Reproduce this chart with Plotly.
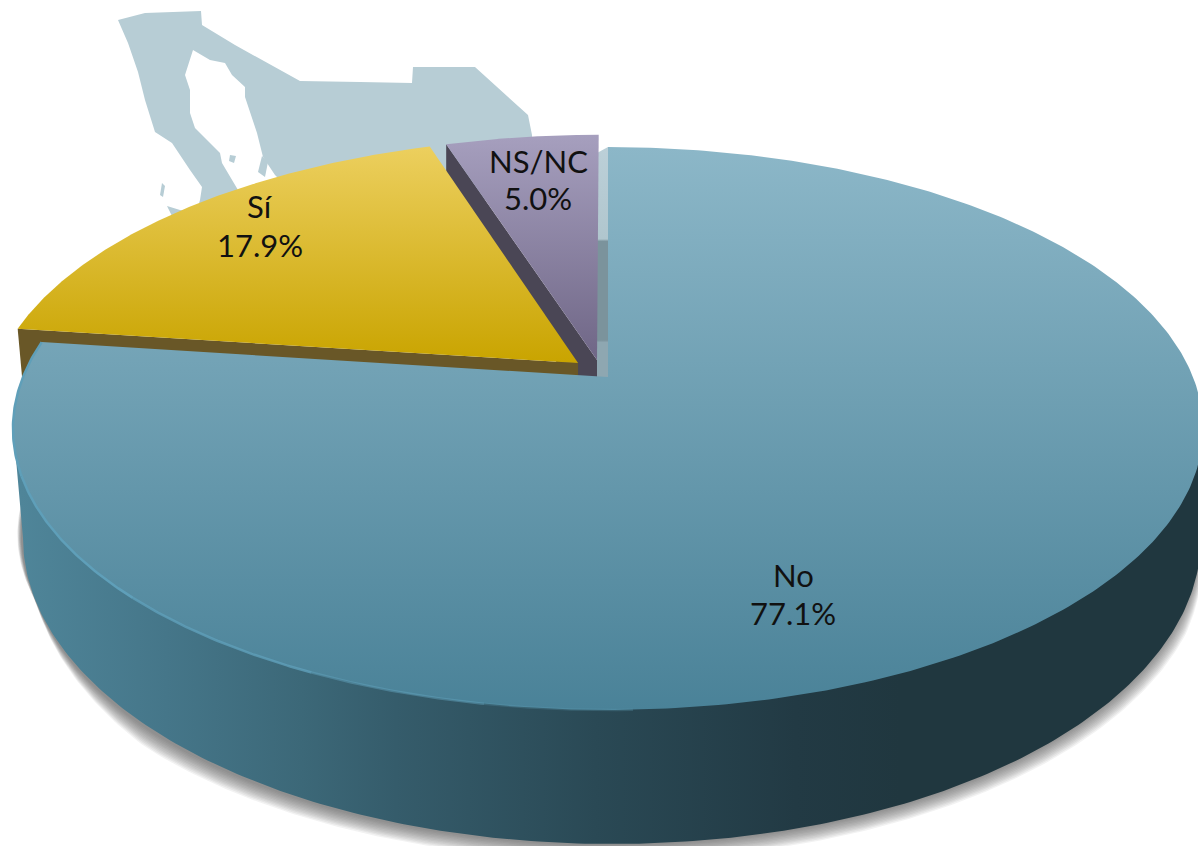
import math
import numpy as np
import plotly.graph_objects as go

# ---- data ----
categories = ["No", "Sí", "NS/NC"]
values = [77.1, 17.9, 5.0]

# ---- projection of the pie plane to the canvas ----
CX, CY, DX, KY, PERSP = 608.0, 377.0, 585.0, 272.0, 0.183
offsets = {"No": (0.0, 0.0), "Sí": (-0.0517, 0.052), "NS/NC": (-0.019, 0.0636)}


def project(u, v):
    den = 1 + PERSP * v
    return CX + DX * u / den, CY - KY * v / den


def wedge(name, start, sweep, n=160):
    ou, ov = offsets[name]
    th = np.radians(np.linspace(start, start + sweep, n))
    xs, ys = project(ou + np.sin(th), ov + np.cos(th))
    ax, ay = project(ou, ov)
    return list(xs), list(ys), ax, ay


def vgrad(c, start, stop):
    return dict(type="vertical", colorscale=c, start=start, stop=stop)


fig = go.Figure()


def poly(xs, ys, color=None, grad=None):
    kw = dict(fillgradient=grad) if grad else dict(fillcolor=color)
    fig.add_trace(go.Scatter(x=list(xs), y=list(ys), mode="lines", fill="toself",
                             line=dict(width=0), hoverinfo="skip", showlegend=False, **kw))


# background map silhouette
MAP = "#b7cdd5"
map_x = [118, 145, 201, 202, 235, 300, 360, 412, 413, 475, 528, 532, 535, 300, 275, 263, 257, 250, 245, 245,
         232, 225, 210, 193, 185, 190, 190, 195, 210, 220, 222, 232, 238, 240, 200, 196, 200, 202, 190, 172, 155,
         145, 138, 128]
map_y = [20, 13, 11, 25, 45, 81, 82, 83, 67, 67, 115, 135, 200, 200, 175, 157, 133, 113, 97, 87,
         75, 63, 60, 50, 75, 90, 113, 128, 143, 153, 163, 180, 190, 200, 215, 213, 200, 187, 170, 143, 132,
         100, 72, 43]
poly(map_x, map_y, MAP)
poly([262, 268, 265, 258], [156, 162, 177, 172], MAP)
poly([230, 236, 234, 229], [155, 156, 163, 161], MAP)
poly([162, 165, 163, 160], [183, 186, 197, 195], MAP)
poly([167, 180, 190, 172], [206, 210, 212, 216], MAP)

# strip between the exploded slices and the large slice
poly([597, 608, 608, 597], [153, 147, 377, 377],
     grad=vgrad([[0, "#bcd0d8"], [0.4, "#b0c6ce"], [0.41, "#7b939c"], [0.84, "#7b939c"],
                 [0.85, "#8ea7b1"], [1, "#8ea7b1"]], 147, 377))

# soft shadow under the base: grows out of the wall, no flat top
BCX, BCY, BRX, BRY = 612.0, 538.0, 589.0, 306.0
deg = np.linspace(-12, 192, 300)
t = np.radians(deg)
spread = np.clip(np.abs(np.sin(np.radians(deg + 12))) * 2.2, 0, 1)
for k in range(12, 0, -1):
    poly(BCX - 3 * spread + (BRX + k * 0.7 * spread) * np.cos(t),
         BCY + (k * 1.35) * spread + BRY * np.sin(t),
         "rgba(70,70,70,0.07)")

# slice angles come from the values, clockwise from 12 o'clock
starts, a = {}, 0.0
for c, v in zip(categories, values):
    starts[c] = (a, v / sum(values) * 360)
    a += starts[c][1]

# NS/NC
xs, ys, ax, ay = wedge("NS/NC", *starts["NS/NC"])
poly([xs[0], ax, ax, xs[0]], [ys[0], ay, ay + 60, ys[0] + 60], "#4a4655")
poly(xs + [ax], ys + [ay], grad=vgrad([[0, "#a69fbe"], [1, "#6f6686"]], 135, 360))

# Sí
xs, ys, ax, ay = wedge("Sí", *starts["Sí"])
poly([xs[0], ax, ax, xs[0] + 6], [ys[0], ay, ay + 60, ys[0] + 66], "#695727")
poly(xs + [ax], ys + [ay], grad=vgrad([[0, "#eccf5e"], [1, "#c9a400"]], 147, 363))

# No: side wall then top
t = np.radians(np.linspace(180, 0, 240))
side_x = list(BCX + BRX * np.cos(t)) + [1205, 13]
side_y = list(BCY + BRY * np.sin(t)) + [430, 425]
poly(side_x, side_y, grad=dict(type="horizontal", start=20, stop=1195, colorscale=[
    [0, "#4f8599"], [0.125, "#457689"], [0.24, "#3c6878"], [0.32, "#355c6b"], [0.49, "#2a4955"],
    [0.66, "#223a44"], [0.75, "#20373f"], [1, "#20373f"]]))
xs, ys, ax, ay = wedge("No", *starts["No"], n=400)
poly(xs + [ax], ys + [ay], grad=vgrad([[0, "#8cb7c8"], [1, "#4a8298"]], 147, 710))

# rim highlight along the front-left edge, fading towards the front
rim_stops = [277.56, 250, 225, 205, 190, 178]
rim_alpha = [1.0, 1.0, 0.8, 0.5, 0.25]
for (a0, a1), al in zip(zip(rim_stops[:-1], rim_stops[1:]), rim_alpha):
    th = np.radians(np.linspace(a0, a1, 60))
    rx, ry = project(np.sin(th), np.cos(th))
    fig.add_trace(go.Scatter(x=list(rx), y=list(ry), mode="lines",
                             line=dict(width=2.5, color=f"rgba(95,159,185,{al})"),
                             hoverinfo="skip", showlegend=False))

# labels
label_pos = {"No": (793, 575, 613), "Sí": (260, 206, 245), "NS/NC": (538, 161, 198)}
for c, v in zip(categories, values):
    lx, ly1, ly2 = label_pos[c]
    for txt, ly in ((c, ly1), (f"{v:.1f}%", ly2)):
        fig.add_annotation(x=lx, y=ly, text=txt, showarrow=False, xref="x", yref="y",
                           font=dict(family="Lato", size=31, color="#111111"))

fig.update_layout(
    width=1198, height=846, autosize=False, margin=dict(l=0, r=0, t=0, b=0),
    paper_bgcolor="white", plot_bgcolor="white", showlegend=False,
    xaxis=dict(range=[0, 1198], visible=False, fixedrange=True),
    yaxis=dict(range=[846, 0], visible=False, fixedrange=True),
)
fig.write_html("out.html", post_script="document.body.style.margin='0';", config={"displayModeBar": False})
